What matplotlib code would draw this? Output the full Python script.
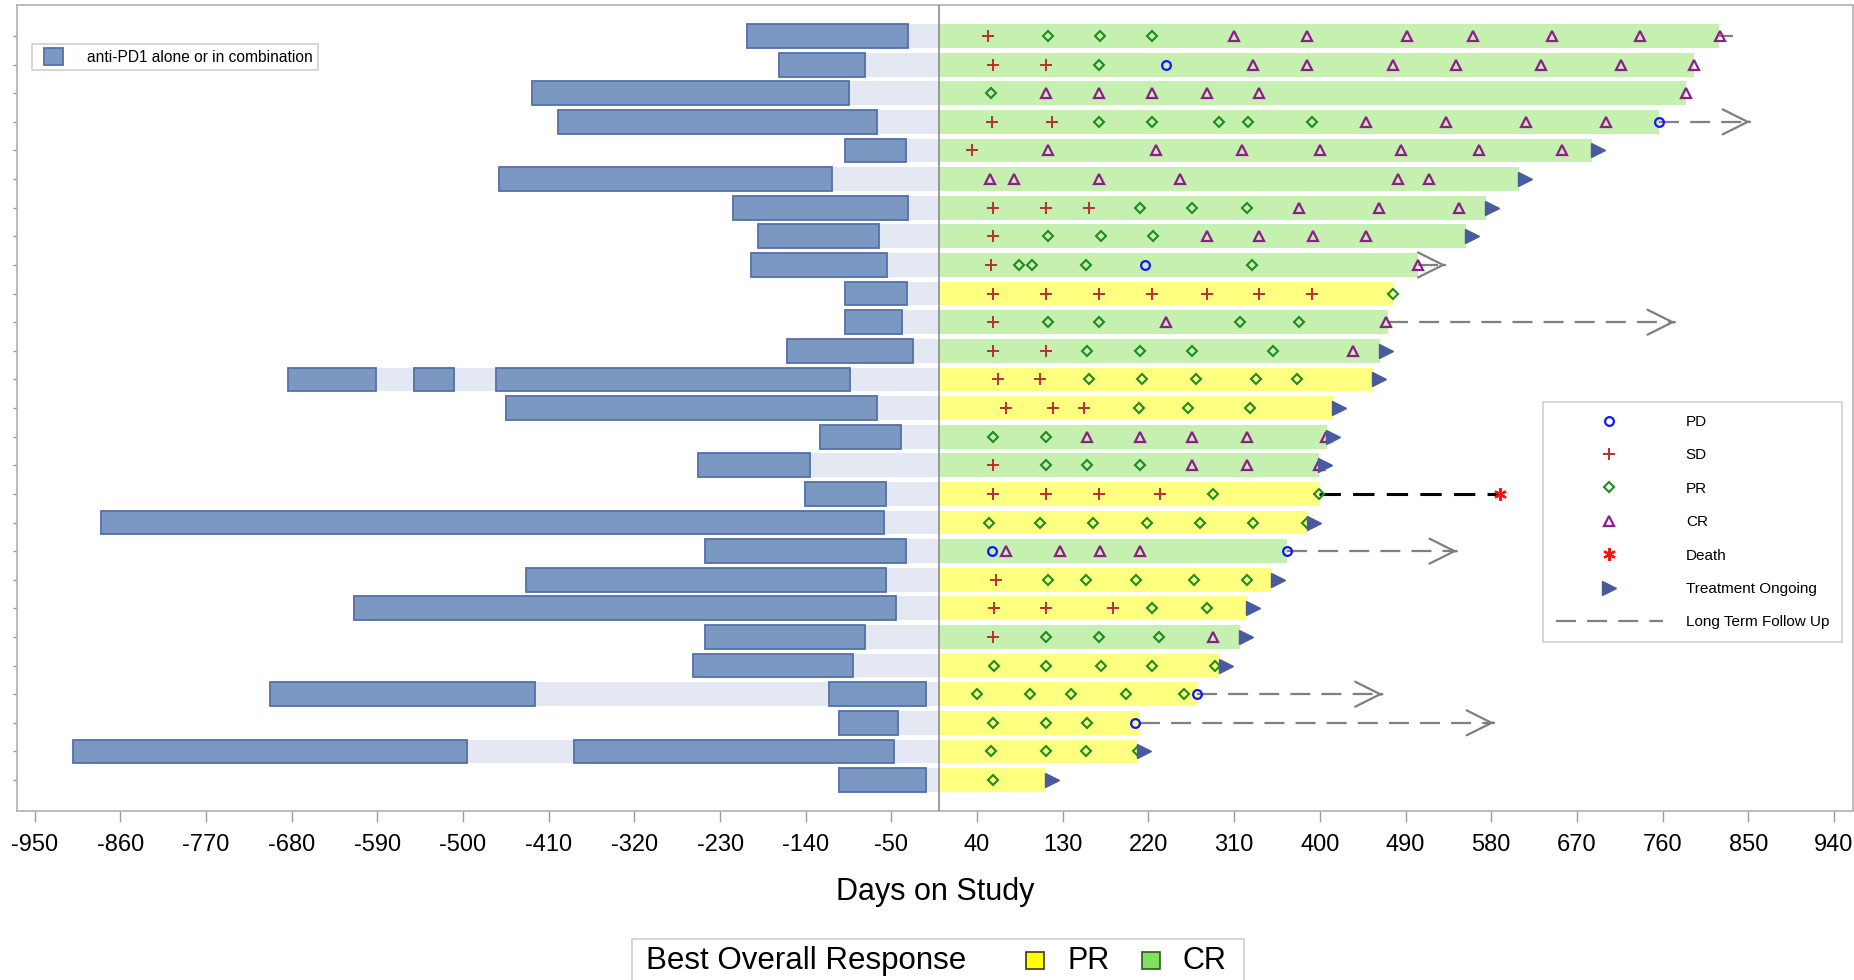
import matplotlib
matplotlib.use("Agg")
import matplotlib.pyplot as plt
from matplotlib.patches import Rectangle
from matplotlib.lines import Line2D
from matplotlib.patches import Patch
from matplotlib.legend_handler import HandlerPatch
import matplotlib.transforms as mtransforms
import numpy as np

plt.rcParams['font.family'] = ['Liberation Sans', 'DejaVu Sans']

# ---------------- data ----------------
n_rows = 27

# prior anti-PD1 treatment segments (days before study start)
prior_row = [0, 1, 2, 3, 4, 5, 6, 7, 8, 9, 10, 11, 12, 12, 12, 13, 14, 15, 16,
             17, 18, 19, 20, 21, 22, 23, 23, 24, 25, 25, 26]
prior_start = [-202, -168, -428, -400, -99, -462, -216, -190, -197, -99, -99, -160,
               -684, -551, -465, -455, -125, -253, -141, -880, -246, -434, -614,
               -246, -258, -703, -116, -105, -910, -383, -105]
prior_end = [-33, -78, -95, -65, -35, -112, -33, -63, -55, -34, -39, -27,
             -591, -509, -94, -65, -40, -136, -56, -58, -35, -56, -45,
             -78, -90, -424, -14, -43, -496, -47, -14]

# days on study and best overall response
study_end = [819, 793, 785, 756, 686, 609, 574, 553, 503, 477, 472, 463, 456, 414,
             407, 399, 399, 388, 365, 350, 323, 316, 295, 271, 211, 209, 112]
best_response = ['CR', 'CR', 'CR', 'CR', 'CR', 'CR', 'CR', 'CR', 'CR', 'PR', 'CR',
                 'CR', 'PR', 'PR', 'CR', 'CR', 'PR', 'PR', 'CR', 'PR', 'PR', 'CR',
                 'PR', 'PR', 'PR', 'PR', 'PR']

# assessments: (row, day)
sd_pts = [(0, 51), (1, 57), (1, 112), (3, 56), (3, 119), (4, 35), (6, 57), (6, 112),
          (6, 157), (7, 57), (8, 55), (9, 57), (9, 112), (9, 168), (9, 224), (9, 281),
          (9, 336), (9, 392), (10, 57), (11, 57), (11, 112), (12, 62), (12, 106),
          (13, 70), (13, 120), (13, 152), (15, 57), (16, 57), (16, 112), (16, 168),
          (16, 232), (19, 60), (20, 58), (20, 112), (20, 183), (21, 57)]
pr_pts = [(0, 114), (0, 169), (0, 224), (1, 168), (2, 55), (3, 168), (3, 224), (3, 294),
          (3, 325), (3, 392), (6, 211), (6, 266), (6, 323), (7, 114), (7, 170), (7, 225),
          (8, 84), (8, 98), (8, 154), (8, 329), (9, 477), (10, 114), (10, 168), (10, 316),
          (10, 378), (11, 155), (11, 211), (11, 266), (11, 351), (12, 157), (12, 213),
          (12, 270), (12, 333), (12, 376), (13, 210), (13, 261), (13, 327), (14, 57),
          (14, 112), (15, 112), (15, 155), (15, 211), (16, 288), (16, 399), (17, 52),
          (17, 106), (17, 162), (17, 218), (17, 274), (17, 330), (17, 386), (19, 114),
          (19, 154), (19, 207), (19, 268), (19, 323), (20, 224), (20, 281), (21, 112),
          (21, 168), (21, 231), (22, 58), (22, 112), (22, 170), (22, 224), (22, 290),
          (23, 40), (23, 96), (23, 139), (23, 196), (23, 257), (24, 57), (24, 112),
          (24, 155), (25, 55), (25, 112), (25, 154), (25, 209), (26, 57)]
cr_pts = [(0, 310), (0, 386), (0, 492), (0, 561), (0, 644), (0, 736), (0, 820),
          (1, 330), (1, 386), (1, 477), (1, 543), (1, 632), (1, 716), (1, 793),
          (2, 112), (2, 168), (2, 224), (2, 281), (2, 336), (2, 785),
          (3, 448), (3, 532), (3, 617), (3, 701),
          (4, 114), (4, 228), (4, 318), (4, 400), (4, 485), (4, 567), (4, 654),
          (5, 54), (5, 79), (5, 168), (5, 253), (5, 482), (5, 515),
          (6, 378), (6, 462), (6, 546), (7, 281), (7, 336), (7, 393), (7, 448),
          (8, 503), (10, 238), (10, 470), (11, 435),
          (14, 155), (14, 211), (14, 266), (14, 323), (14, 406),
          (15, 266), (15, 323), (15, 399), (18, 70), (18, 127), (18, 169), (18, 211),
          (21, 288)]
pd_pts = [(1, 238), (3, 756), (8, 216), (18, 56), (18, 365), (23, 271), (24, 206)]
death_pts = [(16, 589)]

ongoing_rows = [4, 5, 6, 7, 11, 12, 13, 14, 15, 17, 19, 20, 21, 22, 25, 26]

# long term follow-up (row, end day, arrow head shown)
fu_row = [0, 3, 8, 10, 18, 23, 24]
fu_end = [834, 852, 532, 773, 544, 466, 583]
fu_head = [False, True, True, True, True, True, True]

x_ticks = list(range(-950, 941, 90))

# ---------------- style ----------------
W, H = 1854, 980
fig = plt.figure(figsize=(W / 100, H / 100), dpi=100)

def fx(px):
    return px / W

def fy(py):
    return 1 - py / H

ax = fig.add_axes([fx(16.5), fy(810.7), fx(1853) - fx(16.5), fy(4.7) - fy(810.7)])

bar_h = 0.83
band_color = '#E3E8F2'
prior_fill = '#7A98C2'
prior_edge = '#5370A8'
resp_colors = {'CR': '#C5F0B0', 'PR': '#FFFF80'}

# background band from earliest prior start to day 0
for r in range(n_rows):
    starts = [s for s, rr in zip(prior_start, prior_row) if rr == r]
    lo = min(starts)
    ax.barh(r, 0 - lo, left=lo, height=bar_h, color=band_color, zorder=1, linewidth=0)

ax.barh(prior_row, np.array(prior_end) - np.array(prior_start), left=prior_start,
        height=bar_h, color=prior_fill, edgecolor=prior_edge, linewidth=1.3, zorder=2)

ax.barh(range(n_rows), study_end, left=0, height=bar_h,
        color=[resp_colors[b] for b in best_response], linewidth=0, zorder=2)

ax.axvline(0, color='#8C8C8C', lw=1.2, zorder=3)

# follow-up lines
for r, e, hd in zip(fu_row, fu_end, fu_head):
    ax.plot([study_end[r], e], [r, r], color='#7F7F7F', lw=1.6, ls=(0, (9, 5)),
            zorder=3, solid_capstyle='butt', dash_capstyle='butt')
    if hd:
        ax.annotate('', xy=(e, r), xytext=(e - 1, r),
                    arrowprops=dict(arrowstyle='->,head_length=0.9,head_width=0.45',
                                    color='#7F7F7F', lw=1.6, shrinkA=0, shrinkB=0,
                                    mutation_scale=20), zorder=3)

# death line (black dashed)
for r, d in death_pts:
    ax.plot([study_end[r], d], [r, r], color='black', lw=2.2, ls=(0, (7, 4)),
            zorder=3, dash_capstyle='butt')

mk = dict(linestyle='none', zorder=5)
ax.plot([d for r, d in sd_pts], [r for r, d in sd_pts], marker='+', ms=8.5, mew=1.4,
        color='#B8312F', **mk)
ax.plot([d for r, d in pr_pts], [r for r, d in pr_pts], marker='D', ms=4.8, mew=1.5,
        mfc='none', mec='#1E8C1E', **mk)
ax.plot([d for r, d in cr_pts], [r for r, d in cr_pts], marker='^', ms=7.5, mew=1.6,
        mfc='none', mec='#8E1C8C', **mk)
ax.plot([d for r, d in pd_pts], [r for r, d in pd_pts], marker='o', ms=6.3, mew=1.6,
        mfc='none', mec='#1414FF', **mk)
ax.plot([d for r, d in death_pts], [r for r, d in death_pts], marker=(6, 2, 0), ms=9,
        mew=1.6, color='#FF1010', **mk)

off = mtransforms.offset_copy(ax.transData, fig=fig, x=6, y=0, units='dots')
ax.plot([study_end[r] for r in ongoing_rows], ongoing_rows, marker='>', ms=9.5,
        color='#4A5A9E', linestyle='none', zorder=6, transform=off)

# axes styling
ax.set_xlim(-969, 960)
ax.set_ylim(27.07, -1.094)
ax.set_xticks(x_ticks)
ax.set_xticklabels([str(t) for t in x_ticks], fontsize=17)
ax.set_yticks(range(n_rows))
ax.set_yticklabels([])
ax.tick_params(axis='x', length=8, width=1, color='#9A9A9A', pad=9)
ax.tick_params(axis='y', length=3, width=1, color='#9A9A9A')
for s in ax.spines.values():
    s.set_color('#B0B0B0')
    s.set_linewidth(1.2)
ax.set_xlabel('Days on Study', fontsize=22, labelpad=15)


# top-left legend
def inset_patch(legend, orig_handle, xdescent, ydescent, width, height, fontsize):
    return Rectangle((-xdescent + 0.25 * width, -ydescent - 0.1 * height),
                     0.75 * width, 1.2 * height)


leg1 = fig.legend(handles=[Patch(facecolor=prior_fill, edgecolor=prior_edge, lw=1.3)],
                  labels=['anti-PD1 alone or in combination'], loc='upper left',
                  bbox_to_anchor=(fx(32), fy(44)), borderaxespad=0, fontsize=11.2,
                  handlelength=1.65, handleheight=1.0, handletextpad=1.55,
                  borderpad=0.35, fancybox=False, framealpha=1, edgecolor='#CFCFCF',
                  handler_map={Patch: HandlerPatch(patch_func=inset_patch)})
leg1.get_frame().set_linewidth(1.2)

# right legend
h = [Line2D([], [], marker='o', ms=6.3, mew=1.6, mfc='none', mec='#1414FF', ls='none'),
     Line2D([], [], marker='+', ms=8.5, mew=1.4, color='#B8312F', ls='none'),
     Line2D([], [], marker='D', ms=4.8, mew=1.5, mfc='none', mec='#1E8C1E', ls='none'),
     Line2D([], [], marker='^', ms=7.5, mew=1.6, mfc='none', mec='#8E1C8C', ls='none'),
     Line2D([], [], marker=(6, 2, 0), ms=9, mew=1.6, color='#FF1010', ls='none'),
     Line2D([], [], marker='>', ms=9.5, color='#4A5A9E', ls='none'),
     Line2D([], [], color='#7F7F7F', lw=1.6, ls=(0, (9, 5)))]
labels = ['PD', 'SD', 'PR', 'CR', 'Death', 'Treatment Ongoing', 'Long Term Follow Up']
leg2 = fig.legend(handles=h, labels=labels, loc='upper left',
                  bbox_to_anchor=(fx(1543), fy(402)), borderaxespad=0, fontsize=11,
                  handlelength=7.0, handletextpad=1.5, labelspacing=1.27,
                  borderpad=0.85, fancybox=False, framealpha=1, edgecolor='#CFCFCF')
leg2.get_frame().set_linewidth(1.2)

# bottom legend (Best Overall Response)
fig.patches.append(Rectangle((fx(632), fy(990)), fx(1244) - fx(632), fy(939) - fy(990),
                             transform=fig.transFigure, facecolor='white',
                             edgecolor='#CFCFCF', lw=1.2))
fig.text(fx(646), fy(961), 'Best Overall Response', fontsize=22.5, va='center', ha='left')
fig.patches.append(Rectangle((fx(1026), fy(969)), fx(18), fy(0) - fy(17),
                             transform=fig.transFigure, facecolor='#FFFF00',
                             edgecolor='#3A3A10', lw=1.2))
fig.text(fx(1068), fy(961), 'PR', fontsize=22, va='center', ha='left')
fig.patches.append(Rectangle((fx(1142), fy(969)), fx(18), fy(0) - fy(17),
                             transform=fig.transFigure, facecolor='#80E060',
                             edgecolor='#2F5A20', lw=1.2))
fig.text(fx(1183), fy(961), 'CR', fontsize=22, va='center', ha='left')

fig.savefig('out.png', dpi=100)
